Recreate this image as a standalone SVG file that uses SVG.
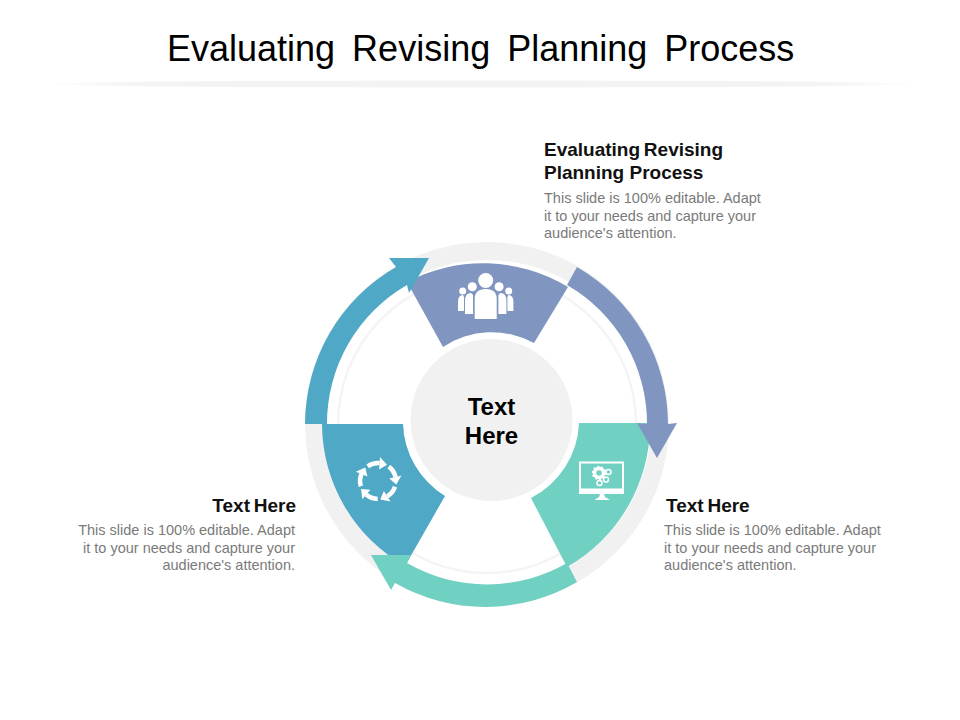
<svg xmlns="http://www.w3.org/2000/svg" width="960" height="720" viewBox="0 0 960 720">
<style>
text{font-family:"Liberation Sans",Arial,sans-serif}
.title{font-size:36px;fill:#000;word-spacing:7px}
.head{font-size:19px;font-weight:bold;fill:#111;word-spacing:-1.500px}
.body{font-size:14.500px;fill:#7a7a7a}
.center{font-size:24px;font-weight:bold;fill:#000;text-anchor:middle}
.end{text-anchor:end}
.blue{fill:#8096c0}.green{fill:#70d0c2}.teal{fill:#4fa8c5}
.ico{fill:#fff}
</style>
<defs>
<linearGradient id="rule" x1="0" x2="1" y1="0" y2="0">
<stop offset="0" stop-color="#f1f1f1" stop-opacity="0"/>
<stop offset=".12" stop-color="#f3f3f3"/>
<stop offset=".88" stop-color="#f3f3f3"/>
<stop offset="1" stop-color="#f1f1f1" stop-opacity="0"/>
</linearGradient>
<g id="cyc"><path d="M-10.300,-14.700A18,18 0 0 1 1.600,-17.900" fill="none" stroke="#fff" stroke-width="4.500"/><polygon points="9,-16.300 1.100,-11.500 2,-24" fill="#fff"/></g>
</defs>
<rect width="960" height="720" fill="#fff"/>
<text class="title" x="167" y="61">Evaluating Revising Planning Process</text>
<ellipse cx="481" cy="84" rx="438" ry="3.500" fill="url(#rule)"/>
<circle cx="487" cy="424" r="173" fill="none" stroke="#f1f1f1" stroke-width="18"/>
<circle cx="487" cy="424" r="149" fill="none" stroke="#f4f4f7" stroke-width="2.500"/>
<g id="node-top">
<path class="blue" d="M407,282A164,164 0 0 1 568,287L534,343A88,88 0 0 0 443,347Z"/>
<g class="ico">
<circle cx="485.700" cy="280.500" r="7.500"/><path d="M474.700,319V299Q474.700,289 485.700,289Q496.700,289 496.700,299V319Z"/>
<circle cx="472.300" cy="286.700" r="4.500"/><path d="M465,314V301Q465,293 471,293L473,295V314Z"/>
<circle cx="499.100" cy="286.700" r="4.500"/><path d="M506.400,314V301Q506.400,293 500.400,293L498.400,295V314Z"/>
<circle cx="462.700" cy="291" r="3.500"/><path d="M458,311V302Q458,295 463,295L464,297V311Z"/>
<circle cx="508.700" cy="291" r="3.500"/><path d="M513.400,311V302Q513.400,295 508.400,295L507.400,297V311Z"/>
</g>
</g>
<g id="node-right">
<path class="green" d="M579,423L650,423A164,164 0 0 1 567,567L531,498A88,88 0 0 0 579,423Z"/>
<path class="ico" fill-rule="evenodd" d="M579,461.500H624V494H579ZM581,463.500V488.500H622V463.500Z"/>
<path class="ico" d="M600,494H604L605,497L610,500H594.500L599,497Z"/>
<circle cx="599" cy="473" r="4.500" fill="none" stroke="#fff" stroke-width="3.500"/>
<circle cx="599" cy="473" r="6.500" fill="none" stroke="#fff" stroke-width="1.500" stroke-dasharray="2 2"/>
<circle cx="608.500" cy="472" r="2.500" fill="none" stroke="#fff" stroke-width="1.500"/>
<circle cx="606" cy="479.500" r="2.500" fill="none" stroke="#fff" stroke-width="1.500"/>
<circle cx="599.500" cy="483" r="2.500" fill="none" stroke="#fff" stroke-width="1.500"/>
</g>
<g id="node-left">
<path class="teal" d="M403,424L322,424A164,164 0 0 0 405,566L445,496A88,88 0 0 1 403,424Z"/>
<g transform="translate(378,481)">
<use href="#cyc"/><use href="#cyc" transform="rotate(72)"/><use href="#cyc" transform="rotate(144)"/><use href="#cyc" transform="rotate(216)"/><use href="#cyc" transform="rotate(288)"/>
</g>
</g>
<g id="connectors">
<path class="teal" d="M305,424A182,182 0 0 1 396,267L389,258L429,258L409,293L407,285A160,160 0 0 0 327,424Z"/>
<path class="blue" d="M577,267A182,182 0 0 1 668,424L677,423L657,458L637,423L647,424A160,160 0 0 0 567,285Z"/>
<path class="green" d="M577,582A182,182 0 0 1 395,583L391,590L371,555L411,555L407,563A160,160 0 0 0 567,563Z"/>
</g>
<g id="node-center">
<circle cx="491.500" cy="420" r="81" fill="#f1f1f1"/>
<text class="center" x="491.500" y="415">Text</text>
<text class="center" x="491.500" y="444">Here</text>
</g>
<g id="label-top">
<text class="head" x="544" y="156">Evaluating Revising</text>
<text class="head" x="544" y="179" style="word-spacing:0">Planning Process</text>
<text class="body" x="544" y="203">This slide is 100% editable. Adapt</text>
<text class="body" x="544" y="221">it to your needs and capture your</text>
<text class="body" x="544" y="238">audience's attention.</text>
</g>
<g id="label-right">
<text class="head" x="666" y="512">Text Here</text>
<text class="body" x="664" y="535">This slide is 100% editable. Adapt</text>
<text class="body" x="664" y="553">it to your needs and capture your</text>
<text class="body" x="664" y="570">audience's attention.</text>
</g>
<g id="label-left">
<text class="head end" x="296" y="512">Text Here</text>
<text class="body end" x="295" y="535">This slide is 100% editable. Adapt</text>
<text class="body end" x="295" y="553">it to your needs and capture your</text>
<text class="body end" x="295" y="570">audience's attention.</text>
</g>
</svg>
